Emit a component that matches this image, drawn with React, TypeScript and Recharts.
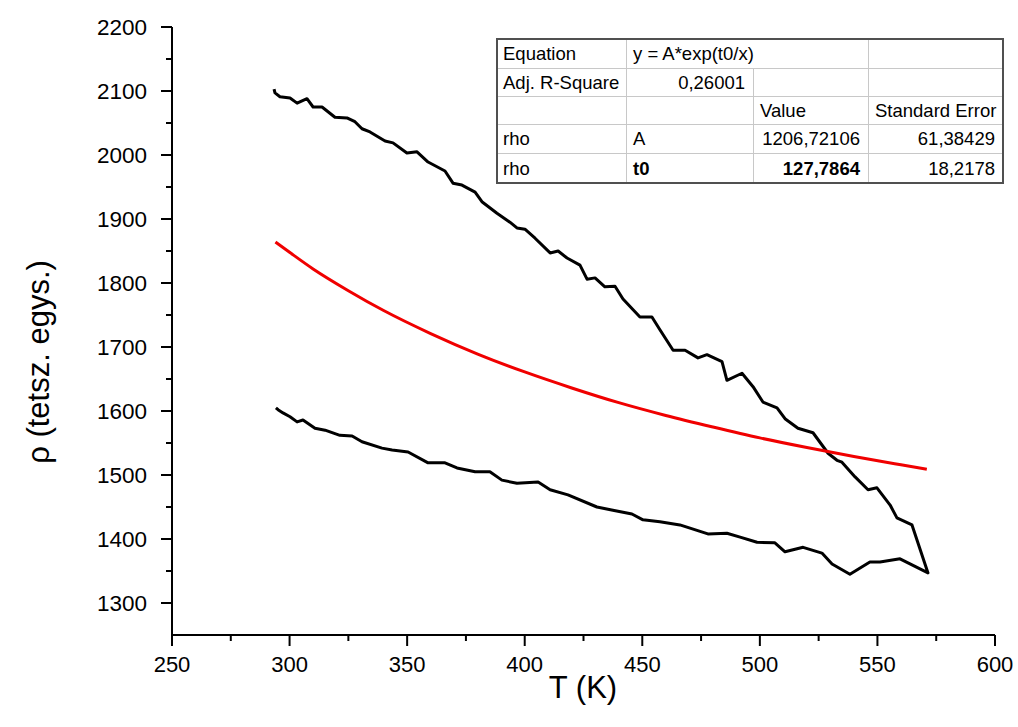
import { Line, LineChart, XAxis, YAxis } from 'recharts'

// upper branch of the measured loop
const upperT = [293.4, 293.8, 295.9, 300.2, 303.2, 307.4, 310.0, 313.8, 319.3, 324.4, 327.8, 330.8, 334.2, 340.6, 344.0, 349.9, 354.2, 358.9, 366.1, 369.5, 373.3, 378.9, 381.8, 388.2, 393.7, 396.7, 400.1, 404.4, 410.8, 414.2, 418.0, 423.5, 426.5, 429.9, 434.1, 438.4, 441.8, 449.0, 454.1, 457.5, 463.1, 468.2, 473.7, 477.5, 483.9, 486.0, 492.4, 497.1, 501.3, 507.3, 510.7, 516.2, 522.6, 529.0, 532.8, 534.9, 540.5, 546.0, 549.8, 555.4, 558.3, 564.7, 571.5]
const upperRho = [2103, 2097, 2091, 2089, 2081, 2088, 2075, 2075, 2059, 2058, 2052, 2041, 2036, 2022, 2019, 2003, 2005, 1989, 1975, 1956, 1953, 1942, 1927, 1909, 1895, 1886, 1884, 1870, 1847, 1850, 1839, 1828, 1806, 1808, 1794, 1795, 1775, 1747, 1747, 1727, 1695, 1695, 1683, 1688, 1677, 1648, 1659, 1638, 1614, 1605, 1588, 1573, 1566, 1534, 1523, 1520, 1497, 1477, 1480, 1453, 1433, 1422, 1347]

// lower branch, read from the hot end back to room temperature
const lowerT = [571.5, 559.6, 551.1, 546.8, 538.3, 530.7, 526.4, 518.4, 510.7, 506.4, 498.8, 491.6, 486.0, 477.9, 466.0, 457.5, 450.3, 445.6, 437.5, 430.7, 418.4, 410.8, 405.7, 396.7, 390.3, 385.2, 378.9, 371.2, 366.1, 358.9, 350.4, 343.6, 339.3, 330.8, 326.6, 321.4, 315.1, 310.8, 305.7, 303.2, 300.2, 297.2, 295.1, 294.2]
const lowerRho = [1347, 1369, 1364, 1364, 1345, 1361, 1378, 1387, 1380, 1394, 1395, 1403, 1409, 1408, 1422, 1427, 1430, 1439, 1445, 1450, 1469, 1477, 1489, 1487, 1492, 1505, 1505, 1511, 1519, 1519, 1536, 1539, 1542, 1552, 1561, 1562, 1570, 1573, 1586, 1583, 1591, 1597, 1602, 1605]

// fitted curve (red)
const fitT = [294, 300, 310, 325, 340, 360, 380, 400, 420, 440, 460, 480, 500, 520, 540, 560, 571]
const fitRho = [1864, 1848, 1822, 1788, 1757, 1721, 1689, 1661, 1636, 1613, 1593, 1575, 1558, 1543, 1529, 1516, 1509]

const xTicks = [250, 275, 300, 325, 350, 375, 400, 425, 450, 475, 500, 525, 550, 575, 600]
const yTicks = [1300, 1350, 1400, 1450, 1500, 1550, 1600, 1650, 1700, 1750, 1800, 1850, 1900, 1950, 2000, 2050, 2100, 2150, 2200]

const loopData = [
  ...upperT.map((t, i) => ({ t, rho: upperRho[i] })),
  ...lowerT.map((t, i) => ({ t, rho: lowerRho[i] })),
]
const fitData = fitT.map((t, i) => ({ t, rho: fitRho[i] }))

const FONT = '"Liberation Sans", Arial, sans-serif'

function XTick(props: any) {
  const { x, y, payload } = props
  const major = payload.value % 50 === 0
  return (
    <g>
      <line x1={x} x2={x} y1={y} y2={y + (major ? 11 : 6)} stroke="#000" strokeWidth={2} />
      {major ? (
        <text x={x} y={y + 37} textAnchor="middle" fill="#000" fontSize={22} fontFamily={FONT}>
          {payload.value}
        </text>
      ) : null}
    </g>
  )
}

function YTick(props: any) {
  const { x, y, payload } = props
  const major = payload.value % 100 === 0
  return (
    <g>
      <line x1={x} x2={x - (major ? 11 : 6)} y1={y} y2={y} stroke="#000" strokeWidth={2} />
      {major ? (
        <text x={x - 25} y={y + 8} textAnchor="end" fill="#000" fontSize={22.5} fontFamily={FONT}>
          {payload.value}
        </text>
      ) : null}
    </g>
  )
}

// fit result table: [text, col start, col span, align, bold]
const colX = [497, 626, 753, 868, 1003]
const rowY = [39, 68, 96, 124, 153, 183]
const tableRows: [string, number, number, 'left' | 'right', boolean][][] = [
  [['Equation', 0, 1, 'left', false], ['y = A*exp(t0/x)', 1, 2, 'left', false], ['', 3, 1, 'left', false]],
  [['Adj. R-Square', 0, 1, 'left', false], ['0,26001', 1, 1, 'right', false], ['', 2, 1, 'left', false], ['', 3, 1, 'left', false]],
  [['', 0, 1, 'left', false], ['', 1, 1, 'left', false], ['Value', 2, 1, 'left', false], ['Standard Error', 3, 1, 'left', false]],
  [['rho', 0, 1, 'left', false], ['A', 1, 1, 'left', false], ['1206,72106', 2, 1, 'right', false], ['61,38429', 3, 1, 'right', false]],
  [['rho', 0, 1, 'left', false], ['t0', 1, 1, 'left', true], ['127,7864', 2, 1, 'right', true], ['18,2178', 3, 1, 'right', false]],
]

function FitTable() {
  return (
    <>
      {tableRows.map((row, r) =>
        row.map(([text, c, span, align, bold], k) => (
          <div
            key={`${r}-${k}`}
            style={{
              position: 'absolute',
              left: colX[c],
              top: rowY[r],
              width: colX[c + span] - colX[c],
              height: rowY[r + 1] - rowY[r],
              boxSizing: 'border-box',
              borderLeft: c > 0 ? '1px solid #c8c8c8' : 'none',
              borderTop: r > 0 ? '1px solid #c8c8c8' : 'none',
              padding: '0 8px 0 6px',
              display: 'flex',
              alignItems: 'center',
              justifyContent: align === 'right' ? 'flex-end' : 'flex-start',
              fontFamily: FONT,
              fontSize: 18.5,
              fontWeight: bold ? 'bold' : 'normal',
              color: '#000',
              whiteSpace: 'nowrap',
            }}
          >
            {text}
          </div>
        )),
      )}
      <div
        style={{
          position: 'absolute',
          left: colX[0] - 1,
          top: rowY[0] - 1,
          width: colX[4] - colX[0] + 2,
          height: rowY[5] - rowY[0] + 2,
          boxSizing: 'border-box',
          border: '2px solid #505050',
        }}
      />
    </>
  )
}

export default function App() {
  return (
    <div style={{ position: 'absolute', left: 0, top: 0, width: 1018, height: 727, background: '#fff' }}>
      <LineChart width={1018} height={727} margin={{ top: 27, right: 23, bottom: 32, left: 92 }}>
        <XAxis
          dataKey="t"
          type="number"
          domain={[250, 600]}
          ticks={xTicks}
          interval={0}
          height={60}
          tickSize={0}
          tickMargin={0}
          tickLine={false}
          tick={<XTick />}
          axisLine={{ stroke: '#000', strokeWidth: 2 }}
          allowDataOverflow
        />
        <YAxis
          dataKey="rho"
          type="number"
          domain={[1250, 2200]}
          ticks={yTicks}
          interval={0}
          width={80}
          tickSize={0}
          tickMargin={0}
          tickLine={false}
          tick={<YTick />}
          axisLine={{ stroke: '#000', strokeWidth: 2 }}
          allowDataOverflow
        />
        <Line
          data={loopData}
          dataKey="rho"
          type="linear"
          stroke="#000"
          strokeWidth={3}
          strokeLinejoin="round"
          dot={false}
          isAnimationActive={false}
        />
        <Line
          data={fitData}
          dataKey="rho"
          type="monotone"
          stroke="#f00000"
          strokeWidth={3}
          dot={false}
          isAnimationActive={false}
        />
      </LineChart>
      <FitTable />
      <div
        style={{
          position: 'absolute',
          left: 39,
          top: 362,
          transform: 'translate(-50%, -50%) rotate(-90deg)',
          fontFamily: FONT,
          fontSize: 31,
          whiteSpace: 'nowrap',
          color: '#000',
        }}
      >
        ρ (tetsz. egys.)
      </div>
      <div
        style={{
          position: 'absolute',
          left: 583,
          top: 688,
          transform: 'translate(-50%, -50%)',
          fontFamily: FONT,
          fontSize: 31,
          whiteSpace: 'nowrap',
          color: '#000',
        }}
      >
        T (K)
      </div>
    </div>
  )
}
